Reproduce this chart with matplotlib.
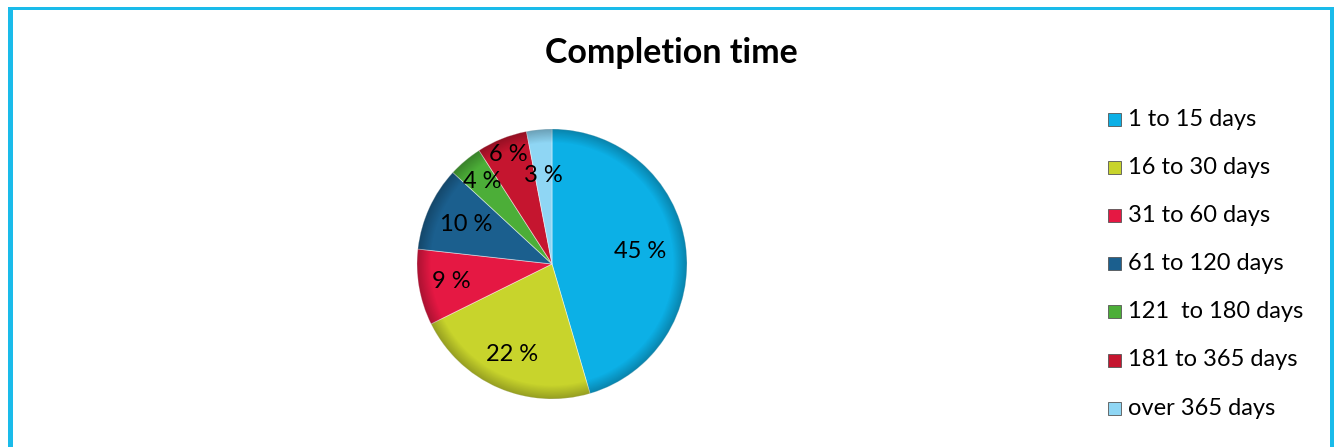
import numpy as np
import matplotlib.pyplot as plt
from matplotlib.patches import Rectangle

plt.rcParams['font.family'] = ['Lato', 'DejaVu Sans']

categories = ['1 to 15 days', '16 to 30 days', '31 to 60 days', '61 to 120 days',
              '121  to 180 days', '181 to 365 days', 'over 365 days']
shares = [45, 22, 9, 10, 4, 6, 3]
colors = ['#0CB0E6', '#C8D42C', '#E51843', '#1B5F8E', '#4CAE38', '#C5152F', '#8FD6F4']
# how far out each percentage label sits, as a fraction of the radius
label_r = [0.66, 0.73, 0.76, 0.70, 0.80, 0.87, 0.66]

W, H = 1340, 447
fig = plt.figure(figsize=(W / 100, H / 100), dpi=100)

# pie axes: centre (552, 264) px, radius 135 px
cx, cy, r = 552, 264, 135
ax = fig.add_axes([(cx - r) / W, (H - cy - r) / H, 2 * r / W, 2 * r / H])
wedges, _ = ax.pie(shares, colors=colors, startangle=90, counterclock=False, radius=1,
                   wedgeprops=dict(edgecolor=(1, 1, 1, 0.5), linewidth=0.6))
ax.set_xlim(-1, 1)
ax.set_ylim(-1, 1)
ax.set_aspect('equal')
ax.axis('off')

# darker rim for a bit of bevel
yy, xx = np.mgrid[-1:1:300j, -1:1:300j]
rr = np.hypot(xx, yy)
shade = np.zeros((300, 300, 4))
shade[..., 3] = 0.25 * np.clip((rr - 0.9) / 0.1, 0, 1)
im = ax.imshow(shade, extent=(-1, 1, -1, 1), origin='lower', zorder=3)
im.set_clip_path(plt.Circle((0, 0), 1, transform=ax.transData))

total = sum(shares)
start = 90.0
for s, frac in zip(shares, label_r):
    span = 360.0 * s / total
    mid = np.deg2rad(start - span / 2)
    ax.text(frac * np.cos(mid), frac * np.sin(mid), f'{s} %', ha='center', va='center',
            fontsize=17, color='black', zorder=5)
    start -= span

fig.text(671 / W, 1 - 53 / H, 'Completion time', ha='center', va='center',
         fontsize=24.5, fontweight='bold')

# legend
for i, (name, c) in enumerate(zip(categories, colors)):
    y = 119 + i * 48.2
    fig.patches.append(Rectangle((1108 / W, 1 - (y + 6.5) / H), 13 / W, 13 / H,
                                 transform=fig.transFigure, facecolor=c,
                                 edgecolor='#555555', linewidth=0.6))
    fig.text(1128 / W, 1 - y / H, name, ha='left', va='center', fontsize=17)

# outer frame
frame = '#1ABBEA'
fig.patches.append(Rectangle((8 / W, 0), 5 / W, 1 - 7 / H, transform=fig.transFigure,
                             facecolor=frame, edgecolor='none'))
fig.patches.append(Rectangle((1330 / W, 0), 4 / W, 1 - 7 / H, transform=fig.transFigure,
                             facecolor=frame, edgecolor='none'))
fig.patches.append(Rectangle((8 / W, 1 - 10 / H), 1326 / W, 3 / H, transform=fig.transFigure,
                             facecolor=frame, edgecolor='none'))

fig.savefig('out.png', dpi=100)
